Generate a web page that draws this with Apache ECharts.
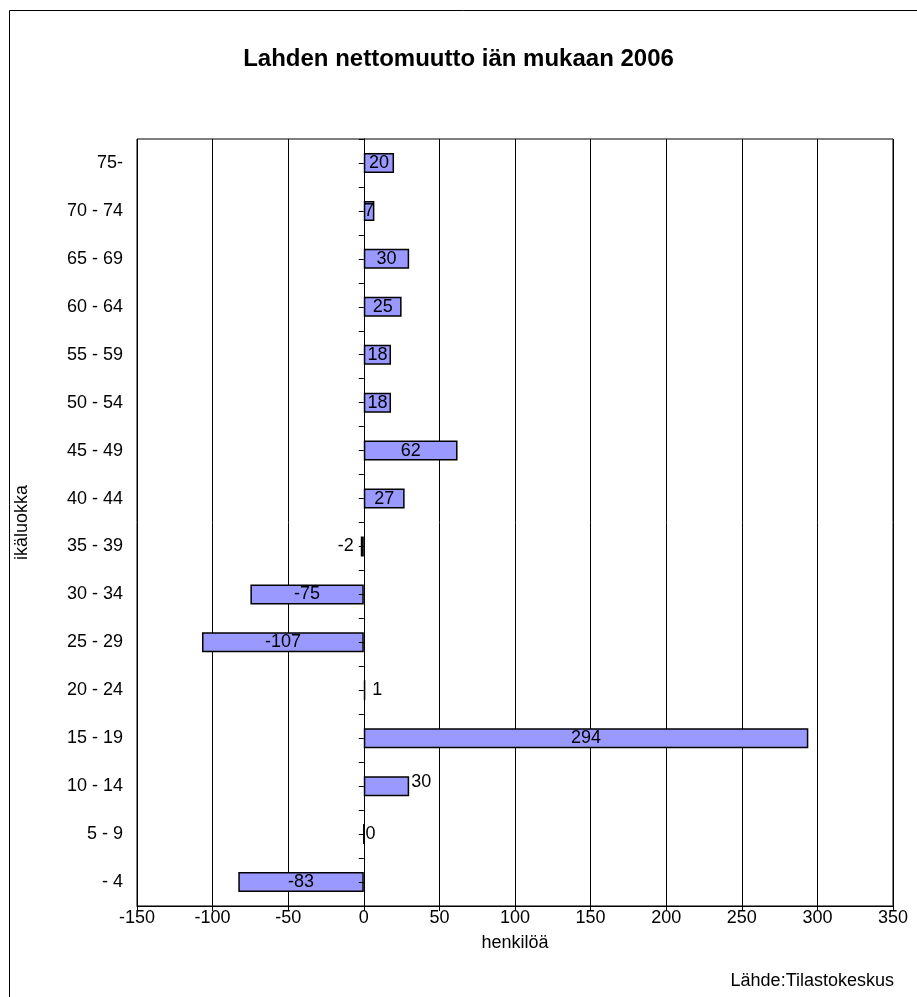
<!DOCTYPE html>
<html>
<head>
<meta charset="utf-8">
<script src="https://cdn.jsdelivr.net/npm/echarts@6/dist/echarts.min.js"></script>
<style>
html,body{margin:0;padding:0;background:#fff;}
#chart{width:917px;height:997px;}
</style>
</head>
<body>
<div id="chart"></div>
<script>
const titleText = 'Lahden nettomuutto iän mukaan 2006';
const sourceText = 'Lähde:Tilastokeskus';
const xName = 'henkilöä';
const yName = 'ikäluokka';
const categories = ['- 4','5 - 9','10 - 14','15 - 19','20 - 24','25 - 29','30 - 34','35 - 39','40 - 44','45 - 49','50 - 54','55 - 59','60 - 64','65 - 69','70 - 74','75-'];
const values = [-83, 0, 30, 294, 1, -107, -75, -2, 27, 62, 18, 18, 25, 30, 7, 20];
const xMin = -150, xMax = 350, xStep = 50;

const FONT = "'Liberation Sans', Arial, sans-serif";

// label placement overrides (style only, keyed by category)
const labelStyle = {
  '- 4': {position: 'inside'},
  '5 - 9': {position: 'right', distance: 1},
  '10 - 14': {position: 'right', distance: 2, offset: [0, -4]},
  '20 - 24': {position: 'right', distance: 7},
  '35 - 39': {position: 'left', distance: 7}
};

const seriesData = values.map((v, i) => {
  const o = {value: v};
  if (labelStyle[categories[i]]) o.label = labelStyle[categories[i]];
  return o;
});

const chart = echarts.init(document.getElementById('chart'), null, {renderer: 'canvas'});
const tickAxisBase = {
  type: 'category',
  data: categories,
  position: 'left',
  z: 3,
  axisLine: {show: true, onZero: true, onZeroAxisIndex: 0, lineStyle: {color: '#000', width: 1}},
  axisLabel: {show: false},
  splitLine: {show: false}
};
chart.setOption({
  backgroundColor: '#fff',
  animation: false,
  textStyle: {fontFamily: FONT},
  title: [
    {text: titleText, left: 'center', top: 42, textStyle: {fontFamily: FONT, fontSize: 24, fontWeight: 'bold', color: '#000'}},
    {text: sourceText, right: 18, top: 967, textStyle: {fontFamily: FONT, fontSize: 18, fontWeight: 'normal', color: '#000'}}
  ],
  graphic: [
    {type: 'rect', shape: {x: 9.5, y: 10.5, width: 1000, height: 1100}, style: {fill: 'none', stroke: '#000', lineWidth: 1}, silent: true}
  ],
  grid: {left: 137, right: 24, top: 139, bottom: 91, show: true, borderColor: '#000', borderWidth: 1, backgroundColor: 'transparent'},
  xAxis: {
    type: 'value', min: xMin, max: xMax, interval: xStep,
    name: xName, nameLocation: 'middle', nameGap: 28,
    nameTextStyle: {fontFamily: FONT, fontSize: 18, color: '#000'},
    axisLine: {show: true, onZero: false, lineStyle: {color: '#000', width: 1}},
    axisTick: {show: true, length: 5, lineStyle: {color: '#000'}},
    axisLabel: {fontFamily: FONT, fontSize: 18, color: '#000', margin: 3},
    splitLine: {show: true, lineStyle: {color: '#000', width: 1}}
  },
  yAxis: [
    {
      type: 'category', data: categories, position: 'left',
      name: yName, nameLocation: 'middle', nameGap: 106, nameRotate: 90,
      nameTextStyle: {fontFamily: FONT, fontSize: 18, color: '#000'},
      axisLine: {show: false, onZero: false},
      axisTick: {show: false},
      axisLabel: {fontFamily: FONT, fontSize: 18, color: '#000', margin: 14},
      splitLine: {show: false}
    },
    Object.assign({}, tickAxisBase, {axisTick: {show: true, length: 5, interval: 0, alignWithLabel: false, lineStyle: {color: '#000'}}}),
    Object.assign({}, tickAxisBase, {axisTick: {show: true, length: 5, interval: 0, alignWithLabel: true, lineStyle: {color: '#000'}}})
  ],
  series: [{
    type: 'bar',
    yAxisIndex: 0,
    data: seriesData,
    barWidth: 20,
    itemStyle: {color: '#9999ff', borderColor: '#000', borderWidth: 1.5},
    label: {show: true, position: 'inside', formatter: '{c}', fontFamily: FONT, fontSize: 18, color: '#000'}
  }]
});
</script>
</body>
</html>
